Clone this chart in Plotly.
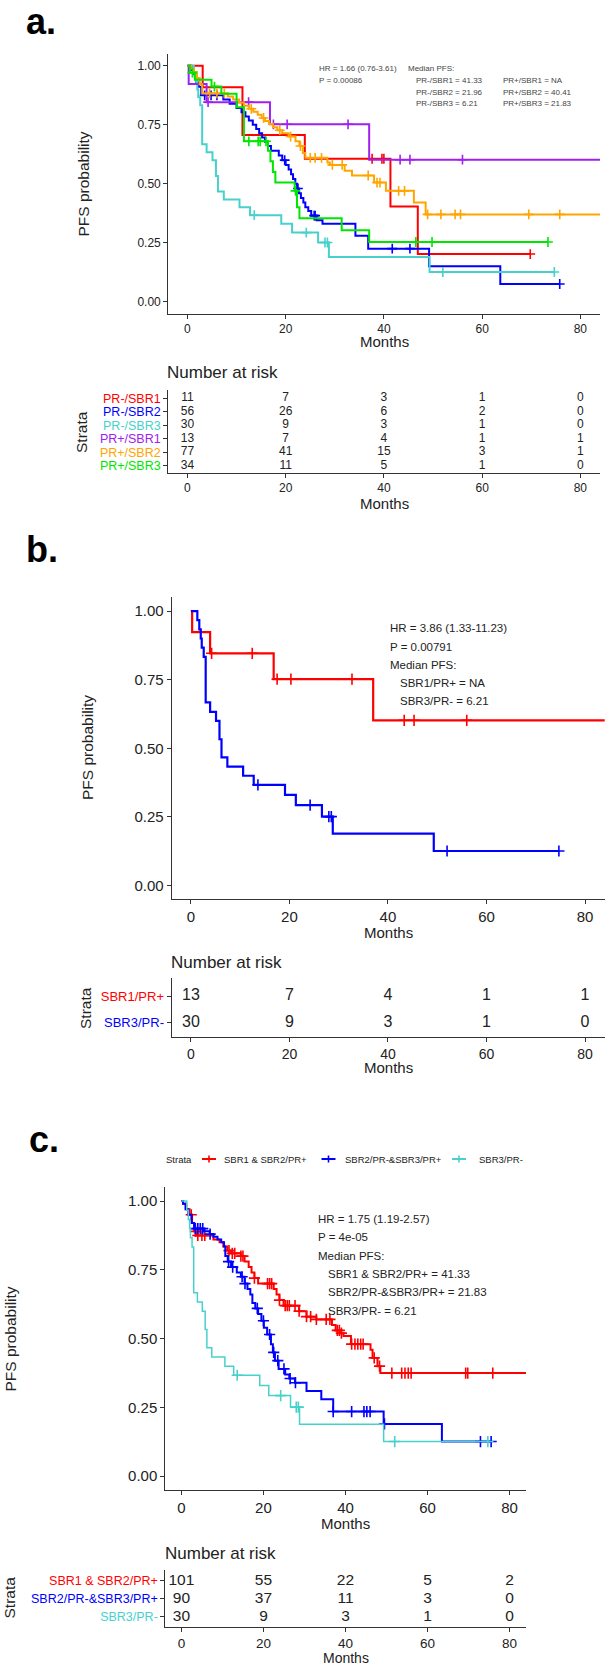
import plotly.graph_objects as go

W, H = 609, 1666
FONT = "Liberation Sans, Arial, sans-serif"

# ---------------- colours ----------------
RED = "#FF0000"
BLUE = "#0000FF"
CYAN = "#48D1CC"
PURPLE = "#A020F0"
ORANGE = "#FFA500"
GREEN = "#00E600"

# ---------------- data ----------------
month_ticks = [0, 20, 40, 60, 80]

# shared groups
sbr1_prpos_t = [0, 0.25, 3.9, 16.8, 37.0, 86]
sbr1_prpos_s = [1.0, 0.923, 0.846, 0.752, 0.602, 0.602]
sbr1_prpos_cens = [4.2, 12.45, 17.5, 20.3, 32.7, 43.3, 45.3, 56.0]

sbr3_prneg_t = [0, 1.3, 1.7, 2.0, 2.2, 2.6, 3.0, 3.9, 5.1, 5.8, 6.21, 7.4, 10.6, 12.75,
                19.1, 21.3, 26.6, 28.8, 49.3, 74.7]
sbr3_prneg_s = [1.0, 0.967, 0.933, 0.900, 0.867, 0.833, 0.667, 0.633, 0.600, 0.533, 0.467,
                0.433, 0.400, 0.367, 0.330, 0.293, 0.251, 0.189, 0.126, 0.126]
sbr3_prneg_cens = [13.6, 24.2, 28.0, 28.5, 52.0, 74.7]

# panel a
a_red_t = [0, 3.1, 11.2, 23.9, 41.33, 46.9, 69.8]
a_red_s = [1.0, 0.909, 0.707, 0.606, 0.404, 0.202, 0.202]
a_red_cens = [37.6, 39.6, 40.0, 69.8]

a_blue_t = [0, 0.8, 1.3, 1.8, 2.3, 2.8, 7.3, 8.6, 10.0, 11.0, 11.8, 12.5, 13.3, 14.0, 14.6,
            15.2, 15.8, 16.4, 17.0, 18.6, 19.3, 20.0, 20.6, 21.1, 21.5, 21.96, 22.3, 22.7,
            23.1, 23.6, 24.0, 24.6, 25.2, 26.3, 27.5, 34.2, 36.8, 49.2, 63.7, 75.8]
a_blue_s = [1.0, 0.982, 0.964, 0.929, 0.911, 0.875, 0.857, 0.839, 0.821, 0.803, 0.785, 0.768,
            0.750, 0.732, 0.714, 0.696, 0.678, 0.660, 0.640, 0.620, 0.600, 0.580, 0.560, 0.540,
            0.520, 0.500, 0.480, 0.460, 0.440, 0.420, 0.400, 0.385, 0.365, 0.345, 0.330, 0.280,
            0.225, 0.150, 0.075, 0.075]
a_blue_cens = [3.5, 4.8, 6.0, 19.8, 22.5, 25.8, 26.0, 41.7, 45.3, 75.8]

a_orange_t = [0, 0.7, 1.3, 1.9, 2.5, 3.0, 8.2, 9.3, 10.5, 11.5, 12.5, 13.4, 14.3, 15.1, 15.8,
              16.6, 17.4, 18.3, 19.3, 20.6, 22.0, 22.8, 23.5, 24.0, 28.5, 29.0, 32.0, 33.5,
              38.0, 40.41, 46.1, 48.5, 86]
a_orange_s = [1.0, 0.987, 0.974, 0.948, 0.922, 0.883, 0.870, 0.857, 0.844, 0.831, 0.818,
              0.805, 0.792, 0.779, 0.766, 0.753, 0.740, 0.727, 0.714, 0.700, 0.680, 0.660,
              0.630, 0.610, 0.590, 0.580, 0.555, 0.535, 0.505, 0.470, 0.420, 0.370, 0.370]
a_orange_cens = [4.5, 6.0, 7.5, 13.0, 15.5, 18.8, 21.0, 23.0, 25.0, 26.0, 27.3, 29.5, 31.5,
                 36.8, 38.6, 39.2, 43.0, 44.2, 48.9, 51.6, 54.5, 55.6, 69.5, 75.8]

a_green_t = [0, 0.5, 1.5, 4.9, 6.9, 10.0, 11.5, 16.4, 16.9, 17.4, 17.9, 21.83, 22.3, 22.8,
             31.4, 37.0, 73.4]
a_green_s = [1.0, 0.971, 0.941, 0.912, 0.882, 0.824, 0.680, 0.640, 0.595, 0.550, 0.505,
             0.470, 0.400, 0.354, 0.303, 0.253, 0.253]
a_green_cens = [1.0, 5.5, 12.5, 14.4, 14.8, 16.0, 22.0, 46.5, 49.8, 73.4]

a_strata = ["PR-/SBR1", "PR-/SBR2", "PR-/SBR3", "PR+/SBR1", "PR+/SBR2", "PR+/SBR3"]
a_risk = [[11, 7, 3, 1, 0],
          [56, 26, 6, 2, 0],
          [30, 9, 3, 1, 0],
          [13, 7, 4, 1, 1],
          [77, 41, 15, 3, 1],
          [34, 11, 5, 1, 0]]

# panel b
b_strata = ["SBR1/PR+", "SBR3/PR-"]
b_risk = [[13, 7, 4, 1, 1],
          [30, 9, 3, 1, 0]]

# panel c
c_red_t = [0, 0.4, 1.2, 2.0, 2.6, 3.1, 3.6, 7.8, 9.3, 10.2, 11.2, 12.1, 14.5, 15.4, 16.4,
           17.1, 17.8, 18.7, 22.5, 23.2, 23.9, 24.9, 28.7, 30.5, 32.9, 36.7, 37.6, 38.6,
           39.5, 41.33, 46.1, 46.6, 47.8, 48.5, 86]
c_red_s = [1.0, 0.99, 0.97, 0.95, 0.92, 0.89, 0.875, 0.86, 0.85, 0.835, 0.82, 0.81, 0.80,
           0.78, 0.76, 0.74, 0.72, 0.70, 0.68, 0.66, 0.64, 0.62, 0.60, 0.58, 0.57, 0.55,
           0.53, 0.52, 0.51, 0.48, 0.46, 0.43, 0.40, 0.375, 0.375]
c_red_cens = [2.4, 3.4, 4.0, 5.0, 5.7, 11.6, 12.4, 13.0, 14.5, 15.0, 17.8, 21.0, 21.5, 22.0,
              23.9, 25.3, 25.8, 26.3, 27.7, 28.7, 30.5, 31.5, 32.9, 35.3, 36.2, 38.0, 38.5,
              39.0, 41.5, 42.3, 43.0, 43.7, 44.3, 47.0, 48.3, 51.3, 53.7, 54.5, 55.3, 56.0,
              69.3, 69.8, 75.9]

c_blue_t = [0, 0.4, 1.0, 1.7, 2.5, 3.1, 5.5, 6.9, 7.8, 8.8, 9.7, 10.4, 10.7, 11.3, 12.1,
            13.5, 14.5, 15.4, 16.1, 16.8, 17.3, 18.0, 18.7, 19.5, 20.1, 20.9, 21.83, 22.3,
            22.8, 23.7, 25.3, 26.3, 27.7, 30.5, 34.1, 37.0, 49.3, 63.5, 75.5]
c_blue_s = [1.0, 0.99, 0.97, 0.95, 0.92, 0.90, 0.89, 0.88, 0.87, 0.86, 0.85, 0.835, 0.80,
            0.78, 0.76, 0.74, 0.725, 0.70, 0.68, 0.66, 0.63, 0.61, 0.59, 0.565, 0.54, 0.515,
            0.48, 0.45, 0.42, 0.39, 0.37, 0.355, 0.34, 0.31, 0.28, 0.235, 0.19, 0.126, 0.126]
c_blue_cens = [3.4, 4.0, 4.6, 5.2, 7.0, 11.5, 12.5, 14.8, 15.5, 18.5, 20.0, 21.5, 22.5, 23.5,
               25.0, 26.5, 27.8, 37.0, 41.5, 44.5, 45.2, 46.0, 49.5, 72.9, 75.5]

c_strata = ["SBR1 & SBR2/PR+", "SBR2/PR-&SBR3/PR+", "SBR3/PR-"]
c_risk = [[101, 55, 22, 5, 2],
          [90, 37, 11, 3, 0],
          [30, 9, 3, 1, 0]]


# ---------------- helpers ----------------
def fx(p):
    return p / W


def fy(p):
    return 1 - p / H


def step_at(ts, ss, t):
    v = ss[0]
    for ti, si in zip(ts, ss):
        if ti <= t:
            v = si
    return v


fig = go.Figure()


def km(ax, t, s, cens, color, width, msize):
    xa, ya = ("x", "y") if ax == 1 else (f"x{ax}", f"y{ax}")
    fig.add_trace(go.Scatter(x=t, y=s, mode="lines", xaxis=xa, yaxis=ya,
                             line=dict(color=color, width=width, shape="hv"),
                             showlegend=False, hoverinfo="skip"))
    cy = [step_at(t, s, c) for c in cens]
    fig.add_trace(go.Scatter(x=cens, y=cy, mode="markers", xaxis=xa, yaxis=ya,
                             marker=dict(symbol="cross-thin", size=msize,
                                         line=dict(color=color, width=1.6)),
                             showlegend=False, hoverinfo="skip", cliponaxis=False))


def risk(ax, rows, size):
    xa, ya = f"x{ax}", f"y{ax}"
    n = len(rows)
    for i, row in enumerate(rows):
        fig.add_trace(go.Scatter(x=month_ticks, y=[n - i] * len(row), mode="text",
                                 text=[str(v) for v in row], xaxis=xa, yaxis=ya,
                                 textfont=dict(family=FONT, size=size, color="#222"),
                                 showlegend=False, hoverinfo="skip", cliponaxis=False))


# panel a
km(1, a_red_t, a_red_s, a_red_cens, RED, 2, 7)
km(1, a_blue_t, a_blue_s, a_blue_cens, BLUE, 2, 7)
km(1, sbr3_prneg_t, sbr3_prneg_s, sbr3_prneg_cens, CYAN, 2, 7)
km(1, sbr1_prpos_t, sbr1_prpos_s, sbr1_prpos_cens, PURPLE, 2, 7)
km(1, a_orange_t, a_orange_s, a_orange_cens, ORANGE, 2, 7)
km(1, a_green_t, a_green_s, a_green_cens, GREEN, 2, 7)
risk(2, a_risk, 12)

# panel b
km(3, sbr1_prpos_t, sbr1_prpos_s, sbr1_prpos_cens, RED, 2.2, 8)
km(3, sbr3_prneg_t, sbr3_prneg_s, sbr3_prneg_cens, BLUE, 2.2, 8)
risk(4, b_risk, 16)

# panel c
km(5, c_red_t, c_red_s, c_red_cens, RED, 2, 8)
km(5, c_blue_t, c_blue_s, c_blue_cens, BLUE, 2, 8)
km(5, sbr3_prneg_t, sbr3_prneg_s, sbr3_prneg_cens, CYAN, 1.5, 8)
risk(6, c_risk, 15.5)

# ---------------- axes ----------------
AXC = "#333333"


def xax(dom, anchor, fs):
    return dict(domain=[fx(dom[0]), fx(dom[1])], anchor=anchor, range=[-3.9, 84],
                tickvals=month_ticks, ticks="outside", ticklen=4, tickcolor=AXC,
                showline=True, linecolor=AXC, linewidth=1.2, showgrid=False,
                zeroline=False, automargin=False,
                tickfont=dict(family=FONT, size=fs, color="#222"))


def yax_main(dom, anchor, fs):
    return dict(domain=[fy(dom[1]), fy(dom[0])], anchor=anchor, range=[-0.05, 1.05],
                tickvals=[0, 0.25, 0.5, 0.75, 1.0],
                ticktext=["0.00", "0.25", "0.50", "0.75", "1.00"],
                ticks="outside", ticklen=4, tickcolor=AXC, showline=True, linecolor=AXC,
                linewidth=1.2, showgrid=False, zeroline=False, automargin=False,
                tickfont=dict(family=FONT, size=fs, color="#222"))


def yax_risk(dom, anchor, rng, names, colors, fs):
    n = len(names)
    return dict(domain=[fy(dom[1]), fy(dom[0])], anchor=anchor, range=rng,
                tickvals=[n - i for i in range(n)],
                ticktext=[f'<span style="color:{c}">{nm}</span>' for nm, c in zip(names, colors)],
                ticks="outside", ticklen=4, tickcolor=AXC, showline=True, linecolor=AXC,
                linewidth=1.2, showgrid=False, zeroline=False, automargin=False,
                tickfont=dict(family=FONT, size=fs, color="#222"))


a_cols = [RED, BLUE, CYAN, PURPLE, ORANGE, GREEN]
b_cols = [RED, BLUE]
c_cols = [RED, BLUE, CYAN]

fig.update_layout(
    xaxis=xax((168.3, 600), "y", 12),
    yaxis=yax_main((54, 313.5), "x", 12),
    xaxis2=xax((168.3, 600), "y2", 12),
    yaxis2=yax_risk((390, 472.7), "x2", [0.505, 6.61], a_strata, a_cols, 12.5),
    xaxis3=xax((171.7, 604.7), "y3", 15),
    yaxis3=yax_main((597.3, 899.3), "x3", 15),
    xaxis4=xax((171.7, 604.7), "y4", 14),
    yaxis4=yax_risk((978, 1036.7), "x4", [0.476, 2.674], b_strata, b_cols, 13),
    xaxis5=xax((165.4, 526), "y5", 15),
    yaxis5=yax_main((1187.3, 1490), "x5", 15),
    xaxis6=xax((165.4, 526), "y6", 13.5),
    yaxis6=yax_risk((1570, 1626.7), "x6", [0.46, 3.61], c_strata, c_cols, 12.5),
)

# ---------------- annotations ----------------
ann = []


def text(x, y, s, size, color="#222", xanchor="left", angle=0, family=FONT, bold=False,
         yanchor="middle"):
    if bold:
        s = f"<b>{s}</b>"
    ann.append(dict(x=fx(x), y=fy(y), xref="paper", yref="paper", text=s, showarrow=False,
                    xanchor=xanchor, yanchor=yanchor, textangle=angle, borderpad=0,
                    font=dict(family=family, size=size, color=color)))


LAB = "Liberation Sans, Arial, sans-serif"
text(25, 0, "a.", 36, "#000", family=LAB, bold=True, yanchor="top")
text(25, 549.5, "b.", 36, "#000", family=LAB, bold=True)
text(28, 1139.5, "c.", 36, "#000", family=LAB, bold=True)

# axis titles
text(83.5, 184, "PFS probability", 15.5, xanchor="center", angle=-90)
text(87, 748, "PFS probability", 15.5, xanchor="center", angle=-90)
text(9.5, 1339, "PFS probability", 15.5, xanchor="center", angle=-90)

text(384, 341, "Months", 15, xanchor="center")
text(384, 503, "Months", 15, xanchor="center")
text(388, 932.5, "Months", 15, xanchor="center")
text(388, 1067.5, "Months", 15, xanchor="center")
text(345.7, 1523, "Months", 15, xanchor="center")
text(345.7, 1657.5, "Months", 14, xanchor="center")

text(166, 372.7, "Number at risk", 17)
text(170, 962.7, "Number at risk", 17)
text(164, 1553, "Number at risk", 17)

text(82, 432, "Strata", 15.5, xanchor="center", angle=-90)
text(86, 1008, "Strata", 15.5, xanchor="center", angle=-90)
text(8.5, 1598, "Strata", 15.5, xanchor="center", angle=-90)

# panel a statistics
GA = "#444"
text(318, 69, "HR = 1.66 (0.76-3.61)", 8, GA)
text(318, 80.5, "P = 0.00086", 8, GA)
text(407, 69, "Median PFS:", 8, GA)
text(415, 80.5, "PR-/SBR1 = 41.33", 8, GA)
text(415, 92, "PR-/SBR2 = 21.96", 8, GA)
text(415, 104, "PR-/SBR3 = 6.21", 8, GA)
text(502, 80.5, "PR+/SBR1 = NA", 8, GA)
text(502, 92, "PR+/SBR2 = 40.41", 8, GA)
text(502, 104, "PR+/SBR3 = 21.83", 8, GA)

# panel b statistics
text(389, 628.3, "HR = 3.86 (1.33-11.23)", 11.5)
text(389, 646.5, "P = 0.00791", 11.5)
text(389, 665, "Median PFS:", 11.5)
text(399, 683, "SBR1/PR+ = NA", 11.5)
text(399, 701, "SBR3/PR- = 6.21", 11.5)

# panel c statistics
text(316.5, 1219, "HR = 1.75 (1.19-2.57)", 11.5)
text(316.5, 1237, "P = 4e-05", 11.5)
text(316.5, 1255.5, "Median PFS:", 11.5)
text(327, 1273.5, "SBR1 & SBR2/PR+ = 41.33", 11.5)
text(327, 1292, "SBR2/PR-&SBR3/PR+ = 21.83", 11.5)
text(327, 1310.5, "SBR3/PR- = 6.21", 11.5)

# panel c legend
LY = 1159
text(164.5, LY, "Strata", 9.5)
shapes = []
legend_items = [(202, 223, c_strata[0], RED), (321.5, 343.5, c_strata[1], BLUE),
                (452, 477.5, c_strata[2], CYAN)]
for x0, xt, name, col in legend_items:
    shapes.append(dict(type="line", xref="paper", yref="paper", x0=fx(x0), x1=fx(x0 + 14),
                       y0=fy(LY), y1=fy(LY), line=dict(color=col, width=2)))
    shapes.append(dict(type="line", xref="paper", yref="paper", x0=fx(x0 + 7), x1=fx(x0 + 7),
                       y0=fy(LY - 3.5), y1=fy(LY + 3.5), line=dict(color=col, width=1.6)))
    text(xt, LY, name, 9.5)

fig.update_layout(
    width=W, height=H, margin=dict(l=0, r=0, t=0, b=0),
    template="none", paper_bgcolor="white", plot_bgcolor="white",
    showlegend=False, annotations=ann, shapes=shapes,
    font=dict(family=FONT, color="#222"),
)

fig.write_html("out.html", config={"displayModeBar": False},
               post_script="document.body.style.margin='0';document.body.style.overflow='hidden';")
